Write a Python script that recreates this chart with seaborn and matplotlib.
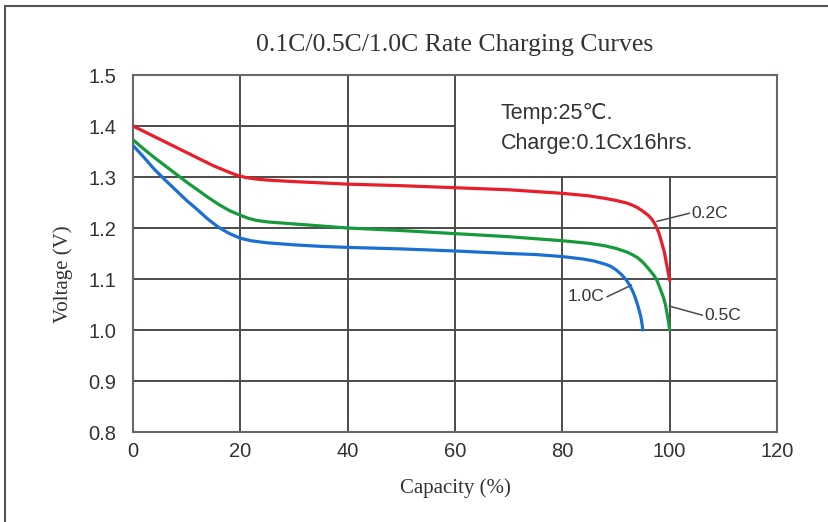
import numpy as np
import pandas as pd
import matplotlib
matplotlib.use("Agg")
import matplotlib.pyplot as plt
from matplotlib.lines import Line2D
import seaborn as sns

# ----- DATA ------------------------------------------------|
cap_02 = [0, 5, 10, 15, 18, 19.5, 21, 23, 25, 30, 40, 50, 60, 70, 80, 85, 88, 90,
          92, 93, 94, 95, 96, 96.7, 97.3, 98, 98.5, 99, 99.5, 100]
volt_02 = [1.400, 1.374, 1.348, 1.322, 1.309, 1.303, 1.299, 1.296, 1.294, 1.291,
           1.286, 1.283, 1.279, 1.275, 1.268, 1.263, 1.258, 1.254, 1.249, 1.245,
           1.240, 1.233, 1.225, 1.217, 1.207, 1.190, 1.172, 1.153, 1.125, 1.097]

cap_05 = [0, 2, 4, 6, 8, 10, 12, 14, 16, 18, 20, 21.5, 23, 25, 30, 40, 50, 60, 70,
          80, 85, 88, 90, 92, 93, 94, 95, 96, 97, 97.6, 98.2, 98.8, 99.2, 99.5,
          99.8, 100]
volt_05 = [1.373, 1.355, 1.338, 1.322, 1.306, 1.290, 1.275, 1.260, 1.246, 1.234,
           1.225, 1.219, 1.215, 1.212, 1.208, 1.200, 1.195, 1.189, 1.183, 1.175,
           1.170, 1.165, 1.160, 1.153, 1.148, 1.142, 1.133, 1.121, 1.108, 1.098,
           1.082, 1.065, 1.050, 1.033, 1.015, 1.000]

cap_10 = [0, 2, 4, 6, 8, 10, 12, 14, 16, 18, 20, 22, 25, 30, 35, 40, 50, 60, 70,
          75, 80, 84, 86, 88, 89, 90, 91, 92, 92.6, 93.2, 93.7, 94.2, 94.6, 94.85,
          95]
volt_10 = [1.362, 1.339, 1.315, 1.294, 1.274, 1.254, 1.236, 1.217, 1.201, 1.189,
           1.180, 1.175, 1.171, 1.167, 1.164, 1.162, 1.159, 1.155, 1.150, 1.148,
           1.144, 1.139, 1.135, 1.129, 1.125, 1.118, 1.109, 1.097, 1.087, 1.074,
           1.060, 1.043, 1.027, 1.012, 1.000]

rates = ["0.2C", "0.5C", "1.0C"]
rate_colors = ["#e81e2a", "#159a3c", "#1b6fd2"]

xticks = [0, 20, 40, 60, 80, 100, 120]
yticks = [0.8, 0.9, 1.0, 1.1, 1.2, 1.3, 1.4, 1.5]

# label text position, leader start (on curve), leader end (at text)
label_text = [(104.1, 1.229), (106.4, 1.029), (87.8, 1.065)]
label_from = [(97.6, 1.213), (99.9, 1.047), (92.9, 1.088)]
label_to = [(103.7, 1.229), (106.1, 1.029), (88.3, 1.065)]

note_lines = ["Temp:25\u2103.", "Charge:0.1Cx16hrs."]

df = pd.concat([
    pd.DataFrame({"capacity": c, "voltage": v, "rate": r})
    for c, v, r in zip([cap_02, cap_05, cap_10], [volt_02, volt_05, volt_10], rates)
])

# ----- STYLE ------------------------------------------------|
sns.set_style("white")
plt.rcParams["font.family"] = ["Liberation Sans", "DejaVu Sans"]
GRID_C = "#4d4a4a"
SERIF = ["Liberation Serif", "DejaVu Serif"]

fig = plt.figure(figsize=(8.29, 5.22), dpi=100)
ax = fig.add_axes([0.1604, 0.1724, 0.7769, 0.6839])

# grid, leaving the note box (x>=60, y>=1.3) clear
box_x, box_y = 60, 1.3
for x in xticks[1:-1]:
    top = yticks[-1] if x <= box_x else box_y
    ax.vlines(x, yticks[0], top, color=GRID_C, lw=1.4, zorder=1)
for y in yticks[1:-1]:
    right = xticks[-1] if y <= box_y else box_x
    ax.hlines(y, xticks[0], right, color=GRID_C, lw=1.4, zorder=1)

sns.lineplot(data=df, x="capacity", y="voltage", hue="rate", hue_order=rates,
             palette=rate_colors, estimator=None, sort=False, lw=2.3,
             legend=False, ax=ax, zorder=3)

for txt, pos, p0, p1 in zip(rates, label_text, label_from, label_to):
    ax.plot([p0[0], p1[0]], [p0[1], p1[1]], color="#4a4a4a", lw=1.1, zorder=2)
    ha = "right" if pos[0] < p0[0] else "left"
    ax.text(pos[0], pos[1], txt, ha=ha, va="center", fontsize=12.5, color="#333333")

ax.text(68.5, 1.425, note_lines[0], fontsize=15.5, color="#333333", va="center")
ax.text(68.5, 1.366, note_lines[1], fontsize=15.5, color="#333333", va="center")

ax.set_xlim(xticks[0], xticks[-1])
ax.set_ylim(yticks[0], yticks[-1])
ax.set_xticks(xticks)
ax.set_yticks(yticks)
ax.set_yticklabels([f"{t:.1f}" for t in yticks])
ax.tick_params(axis="both", length=0, labelsize=14.5, colors="#333333")
ax.tick_params(axis="y", pad=12)
ax.tick_params(axis="x", pad=7)
ax.set_xlabel("")
ax.set_ylabel("")
for s in ax.spines.values():
    s.set_color("#6a6666")
    s.set_linewidth(1.5)

fig.text(0.549, 0.914, "0.1C/0.5C/1.0C Rate Charging Curves", ha="center",
         va="center", fontsize=18.5, family=SERIF, color="#333333")
fig.text(0.076, 0.475, "Voltage (V)", rotation=90, ha="center", va="center",
         fontsize=15, family=SERIF, color="#333333")
fig.text(0.549, 0.065, "Capacity (%)", ha="center", va="center",
         fontsize=15, family=SERIF, color="#333333")

# outer frame (top and left edges only)
fig.add_artist(Line2D([0.006, 1.0], [0.988, 0.988], color="#555555", lw=1.5))
fig.add_artist(Line2D([0.006, 0.006], [0.0, 0.988], color="#555555", lw=1.5))

fig.savefig("out.png", dpi=100)
